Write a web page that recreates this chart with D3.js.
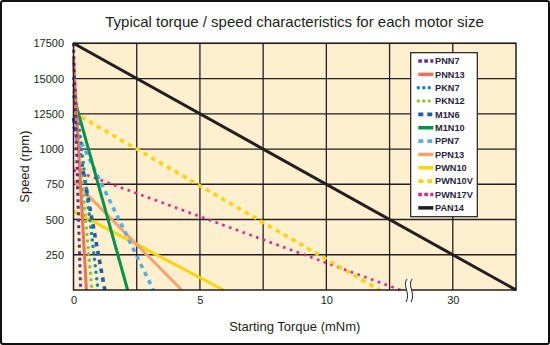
<!DOCTYPE html>
<html><head><meta charset="utf-8">
<script src="https://cdn.jsdelivr.net/npm/d3@7"></script>
<style>
html,body{margin:0;padding:0;background:#fff;}
svg{display:block;font-family:"Liberation Sans",Arial,sans-serif;}
</style></head>
<body><svg id="c" width="550" height="345"></svg>
<script>
// ---- data ----
const motors = ["PNN7","PNN13","PKN7","PKN12","M1N6","M1N10","PPN7","PPN13","PWN10","PWN10V","PWN17V","PAN14"];
const noLoadSpeed = [17500,16400,15000,14500,12200,13800,11600,7750,5600,12600,8500,17500]; // rpm
const startingTorque = [0.28,0.51,0.97,0.73,1.24,2.14,3.16,4.28,5.93,12.1,15.5,32.5]; // mNm
const colors = ["#5E3192","#F37057","#1C87B5","#8DC63F","#1C5CA8","#00944A","#5AAEDF","#F8A36B","#FFD400","#FFD400","#EC1C8C","#231F20"];
const styles = ["sqdot","solid","rnddot","rnddot","dash","solid","dash","solid","solid","dash","sqdot2","solid"];
const yTickValues = [2500,5000,7500,10000,12500,15000,17500];
const yTickLabels = ["250","500","750","1000","12500","15000","17500"];
const xGridValues = [2.5,5,7.5,10,12.5,30];
const xTickValues = [0,5,10,30];
const xTickLabels = ["0","5","10","30"];

// ---- layout ----
const svg = d3.select("#c");
const L = 73.5, R = 516, T = 43.3, B = 290;
const gx = (R - L) / 7;
const x = d3.scaleLinear().domain([0,12.5,30,32.5]).range([L, L+5*gx, L+6*gx, R]);
const y = d3.scaleLinear().domain([0,17500]).range([B, T]);
const ink = "#231F20";

// outer frame
svg.append("rect").attr("x",1).attr("y",1).attr("width",548).attr("height",343)
  .attr("rx",2).attr("fill","#fff").attr("stroke","#111").attr("stroke-width",2);

// title
svg.append("text").attr("x",294.5).attr("y",27).attr("text-anchor","middle")
  .attr("font-size",15).attr("fill",ink).text("Typical torque / speed characteristics for each motor size");

// plot background
svg.append("rect").attr("x",L).attr("y",T).attr("width",R-L).attr("height",B-T).attr("fill","#FEEFCF");

// grid
const grid = svg.append("g").attr("stroke",ink).attr("stroke-width",1.3);
grid.selectAll("line.h").data(yTickValues).join("line")
  .attr("x1",L).attr("x2",R).attr("y1",d=>y(d)).attr("y2",d=>y(d));
grid.selectAll("line.v").data(xGridValues).join("line").attr("class","v")
  .attr("y1",T).attr("y2",B).attr("x1",d=>x(d)).attr("x2",d=>x(d));

// series
const dashFor = s => s==="sqdot" ? "3,3.5" : s==="sqdot2" ? "2.6,4.6" : s==="rnddot" ? "0,6.5" : s==="dash" ? "4.5,4.5" : null;
const widthFor = s => s==="sqdot" ? 3 : s==="sqdot2" ? 2.6 : s==="rnddot" ? 3.6 : s==="dash" ? 3.6 : 3;
const line = d3.line().x(d=>x(d[0])).y(d=>y(d[1]));
const series = motors.map((m,i)=>({name:m, color:colors[i], style:styles[i],
  pts:[[0,noLoadSpeed[i]],[startingTorque[i],0]]}));
const gLines = svg.append("g");
gLines.selectAll("path").data(series.slice().reverse()).join("path")
  .attr("d",d=>line(d.pts)).attr("fill","none")
  .attr("stroke",d=>d.color).attr("stroke-width",d=>widthFor(d.style))
  .attr("stroke-dasharray",d=>dashFor(d.style))
  .attr("stroke-linecap",d=>d.style==="rnddot"?"round":"butt");

// plot border
svg.append("rect").attr("x",L).attr("y",T).attr("width",R-L).attr("height",B-T)
  .attr("fill","none").attr("stroke",ink).attr("stroke-width",1.5);

// axis break symbol
const bx = 407, by0 = 279, by1 = 302;
const wave = (x0) => `M${x0},${by0} C${x0-5},${by0+7} ${x0+4},${by0+14} ${x0-1},${by1}`;
svg.append("path").attr("d", `${wave(bx)} L${bx+4},${by1} C${bx+9},${by0+14} ${bx},${by0+7} ${bx+5},${by0} Z`)
  .attr("fill","#fff").attr("stroke","none");
[bx, bx+5].forEach(x0=>{
  svg.append("path").attr("d",wave(x0)).attr("fill","none").attr("stroke",ink).attr("stroke-width",1);
});

// axes
const yAxis = d3.axisLeft(y).tickValues(yTickValues).tickSize(0).tickPadding(0)
  .tickFormat((d,i)=>yTickLabels[i]);
const gy = svg.append("g").attr("transform",`translate(${64},0)`).call(yAxis);
gy.select(".domain").remove();
gy.selectAll("text").attr("font-size",11).attr("fill",ink).attr("font-family","Liberation Sans, Arial, sans-serif");

const xAxis = d3.axisBottom(x).tickValues(xTickValues).tickSize(0).tickPadding(0)
  .tickFormat((d,i)=>xTickLabels[i]);
const gxA = svg.append("g").attr("transform",`translate(0,${296})`).call(xAxis);
gxA.select(".domain").remove();
gxA.selectAll("text").attr("font-size",11).attr("fill",ink).attr("font-family","Liberation Sans, Arial, sans-serif");

// axis titles
svg.append("text").attr("transform",`translate(29,${(T+B)/2}) rotate(-90)`)
  .attr("text-anchor","middle").attr("font-size",13).attr("fill",ink).text("Speed (rpm)");
svg.append("text").attr("x",(L+R)/2).attr("y",331).attr("text-anchor","middle")
  .attr("font-size",13).attr("fill",ink).text("Starting Torque (mNm)");

// legend
const lg = svg.append("g");
lg.append("rect").attr("x",410.7).attr("y",52.7).attr("width",66.6).attr("height",164)
  .attr("fill","#fff").attr("stroke",ink).attr("stroke-width",1.2);
const rowY = i => 61 + i*13.35;
const items = lg.selectAll("g.it").data(series).join("g").attr("class","it");
items.append("line").attr("x1",418.3).attr("x2",433.3).attr("y1",(d,i)=>rowY(i)).attr("y2",(d,i)=>rowY(i))
  .attr("stroke",d=>d.color).attr("stroke-width",d=>d.style==="solid"?3.5:3.6)
  .attr("stroke-dasharray",d=>d.style==="dash"?"5,4":(d.style==="solid"?null:(d.style==="rnddot"?"0,5.5":"3.6,2.4")))
  .attr("stroke-linecap",d=>d.style==="rnddot"?"round":"butt");
items.append("text").attr("x",435).attr("y",(d,i)=>rowY(i)+3.3)
  .attr("font-size",9.2).attr("font-weight","bold").attr("fill","#2A2540").text(d=>d.name);
</script></body></html>
